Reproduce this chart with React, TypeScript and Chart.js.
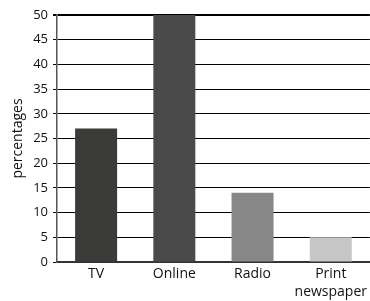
import React, { useEffect, useRef } from "react";
import { Chart, registerables } from "chart.js";

Chart.register(...registerables);

const categories: (string | string[])[] = ["TV", "Online", "Radio", ["Print", "newspaper"]];
const values: number[] = [27, 50, 14, 5];
const barColors: string[] = ["#3b3b39", "#4a4a4a", "#878787", "#c6c6c6"];
const yTitle = "percentages";

export default function App() {
  const ref = useRef<HTMLCanvasElement | null>(null);
  useEffect(() => {
    if (!ref.current) return;
    const family = "'Open Sans', 'Noto Sans', sans-serif";
    const chart = new Chart(ref.current, {
      type: "bar",
      data: {
        labels: categories,
        datasets: [
          {
            data: values,
            backgroundColor: barColors,
            borderWidth: 0,
            barPercentage: 0.537,
            categoryPercentage: 1,
          },
        ],
      },
      options: {
        animation: false,
        responsive: true,
        maintainAspectRatio: false,
        layout: { padding: { top: 15, left: 0, right: 0, bottom: 0 } },
        plugins: { legend: { display: false }, tooltip: { enabled: false } },
        scales: {
          x: {
            grid: { display: false, drawTicks: false },
            border: { color: "#333", width: 2 },
            ticks: {
              color: "#111",
              font: { family, size: 14, lineHeight: 1.3 },
              padding: 3,
              maxRotation: 0,
              autoSkip: false,
            },
            afterFit: (s: any) => {
              s.height = 39;
            },
          },
          y: {
            min: 0,
            max: 50,
            ticks: { stepSize: 5, color: "#111", font: { family, size: 13 }, padding: 5 },
            grid: {
              color: "#000",
              lineWidth: (ctx: any) => (ctx.tick && ctx.tick.value === 50 ? 2 : 1),
              tickLength: 4,
            },
            border: { color: "#555", width: 1.5 },
            title: {
              display: true,
              text: yTitle,
              color: "#111",
              font: { family, size: 14 },
              padding: { top: 10, bottom: 0 },
            },
            afterFit: (s: any) => {
              s.width = 57;
            },
          },
        },
      },
    });
    return () => chart.destroy();
  }, []);
  return (
    <div style={{ position: "absolute", left: 0, top: 0, width: 370, height: 301 }}>
      <canvas ref={ref} />
    </div>
  );
}
